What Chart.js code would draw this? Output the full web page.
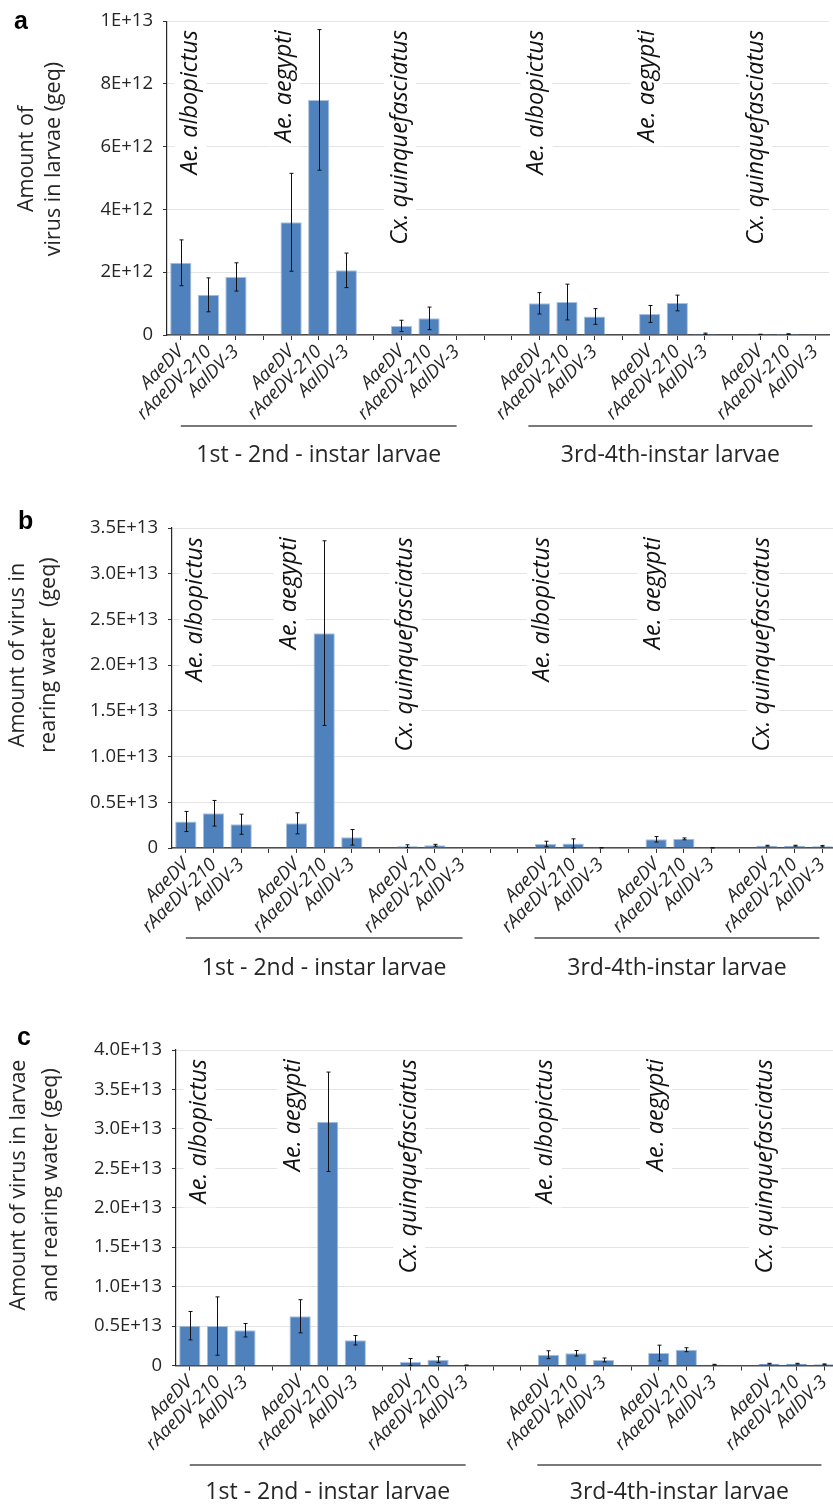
<!DOCTYPE html>
<html>
<head>
<meta charset="utf-8">
<script src="https://cdn.jsdelivr.net/npm/chart.js@4.4.1/dist/chart.umd.min.js"></script>
<style>
  html, body { margin: 0; padding: 0; background: #fff; overflow: hidden; width: 833px; height: 1509px; }
  canvas { position: absolute; left: 0; display: block; }
</style>
</head>
<body>
<canvas id="chartA" width="833" height="480" style="top:0px"></canvas>
<canvas id="chartB" width="840" height="520" style="top:480px"></canvas>
<canvas id="chartC" width="842" height="509" style="top:1000px"></canvas>
<script>
// Virus strains, host species and larval stages
const strains = ['AaeDV', 'rAaeDV-210', 'AalDV-3'];
const species = ['Ae. albopictus', 'Ae. aegypti', 'Cx. quinquefasciatus'];
const stages = ['1st - 2nd - instar larvae', '3rd-4th-instar larvae'];

// Values (geq), ordered stage -> species -> strain
const larvaeMean = [2.30e12, 1.28e12, 1.85e12, 3.59e12, 7.49e12, 2.06e12, 0.29e12, 0.53e12, 0.01e12,
                    1.01e12, 1.05e12, 0.59e12, 0.67e12, 1.02e12, 0.04e12, 0.02e12, 0.03e12, 0.005e12];
const larvaeSd = [0.73e12, 0.54e12, 0.45e12, 1.56e12, 2.24e12, 0.55e12, 0.18e12, 0.36e12, 0,
                  0.34e12, 0.57e12, 0.25e12, 0.27e12, 0.25e12, 0.02e12, 0.005e12, 0.01e12, 0];
const waterMean = [0.29e13, 0.38e13, 0.26e13, 0.27e13, 2.35e13, 0.117e13, 0.02e13, 0.03e13, 0,
                   0.044e13, 0.05e13, 0.002e13, 0.095e13, 0.10e13, 0.002e13, 0.025e13, 0.025e13, 0.02e13];
const waterSd = [0.11e13, 0.14e13, 0.11e13, 0.115e13, 1.01e13, 0.085e13, 0.015e13, 0.01e13, 0,
                 0.03e13, 0.05e13, 0.003e13, 0.03e13, 0.01e13, 0.002e13, 0.005e13, 0.005e13, 0.008e13];
const totalMean = [0.505e13, 0.50e13, 0.447e13, 0.624e13, 3.09e13, 0.32e13, 0.044e13, 0.074e13, 0.003e13,
                   0.137e13, 0.155e13, 0.07e13, 0.158e13, 0.20e13, 0.01e13, 0.023e13, 0.023e13, 0.015e13];
const totalSd = [0.18e13, 0.37e13, 0.085e13, 0.21e13, 0.63e13, 0.06e13, 0.045e13, 0.037e13, 0.003e13,
                 0.05e13, 0.035e13, 0.025e13, 0.10e13, 0.025e13, 0.005e13, 0.005e13, 0.005e13, 0.005e13];

// Y-axis tick labels
const larvaeTicks = ['0', '2E+12', '4E+12', '6E+12', '8E+12', '1E+13'];
const waterTicks = ['0', '0.5E+13', '1.0E+13', '1.5E+13', '2.0E+13', '2.5E+13', '3.0E+13', '3.5E+13'];
const totalTicks = ['0', '0.5E+13', '1.0E+13', '1.5E+13', '2.0E+13', '2.5E+13', '3.0E+13', '3.5E+13', '4.0E+13'];

// Category layout: six species groups of three strains, separated by empty slots
const groupStart = [0, 4, 8, 13, 17, 21];
const slotCount = 24;
const speciesLabelSlot = [0.35, 3.75, 7.95, 12.9, 16.9, 20.85];
const stageSpan = [[0, 10], [12.6, 22.9]];

const FONT = '"Open Sans", "Noto Sans", sans-serif';
const TEXT = '#262626';
const BAR = '#4f81bd';

function buildSlots(mean, sd) {
  const labels = new Array(slotCount).fill('');
  const values = new Array(slotCount).fill(null);
  const errs = new Array(slotCount).fill(null);
  groupStart.forEach((start, g) => {
    strains.forEach((name, s) => {
      const k = g * 3 + s;
      labels[start + s] = name;
      values[start + s] = mean[k];
      errs[start + s] = sd[k];
    });
  });
  return { labels, values, errs };
}

// Error bars from each bar's mean +/- sd
const errorBars = {
  id: 'errorBars',
  afterDatasetsDraw(chart) {
    const ds = chart.data.datasets[0];
    const meta = chart.getDatasetMeta(0);
    const y = chart.scales.y;
    const ctx = chart.ctx;
    ctx.save();
    ctx.strokeStyle = '#111';
    ctx.lineWidth = 1;
    meta.data.forEach((bar, i) => {
      const v = ds.data[i], e = ds.sd[i];
      if (v == null || !e) return;
      const x = Math.round(bar.x) + 0.5;
      const yt = y.getPixelForValue(v + e);
      const yb = y.getPixelForValue(Math.max(0, v - e));
      ctx.beginPath();
      ctx.moveTo(x, yt); ctx.lineTo(x, yb);
      ctx.moveTo(x - 2, yt); ctx.lineTo(x + 2, yt);
      ctx.moveTo(x - 2, yb); ctx.lineTo(x + 2, yb);
      ctx.stroke();
    });
    ctx.restore();
  }
};

// Species names above each group, on a white backing that breaks the grid
const speciesLabels = {
  id: 'speciesLabels',
  beforeDatasetsDraw(chart) {
    const ctx = chart.ctx;
    const xs = chart.scales.x;
    const top = chart.chartArea.top + 9;
    ctx.save();
    ctx.font = 'italic 23.5px ' + FONT;
    groupStart.forEach((start, g) => {
      const name = species[g % 3];
      const x = xs.getPixelForValue(speciesLabelSlot[g]);
      const w = ctx.measureText(name).width;
      ctx.fillStyle = '#fff';
      ctx.fillRect(x - 16, top - 4, 32, w + 8);
      ctx.fillStyle = '#111';
      ctx.translate(x, top);
      ctx.rotate(-Math.PI / 2);
      ctx.textAlign = 'right';
      ctx.textBaseline = 'middle';
      ctx.fillText(name, 0, 0);
      ctx.setTransform(1, 0, 0, 1, 0, 0);
    });
    ctx.restore();
  }
};

// Panel letter, y-axis title and larval-stage brackets
const annotations = {
  id: 'annotations',
  afterDraw(chart, args, o) {
    const ctx = chart.ctx;
    const xs = chart.scales.x;
    ctx.save();
    ctx.fillStyle = '#000';
    ctx.font = 'bold 25px "Liberation Sans", Arial, sans-serif';
    ctx.textAlign = 'left';
    ctx.textBaseline = 'alphabetic';
    ctx.fillText(o.letter, o.letterX, o.letterY);

    ctx.fillStyle = TEXT;
    ctx.font = '21.5px ' + FONT;
    ctx.textAlign = 'center';
    ctx.textBaseline = 'middle';
    o.title.forEach((line, i) => {
      ctx.save();
      ctx.translate(o.titleX[i], o.titleY);
      ctx.rotate(-Math.PI / 2);
      ctx.fillText(line, 0, 0);
      ctx.restore();
    });

    ctx.strokeStyle = '#4d4d4d';
    ctx.lineWidth = 1.5;
    ctx.font = '23px ' + FONT;
    stageSpan.forEach((span, i) => {
      const x0 = xs.getPixelForValue(span[0]);
      const x1 = xs.getPixelForValue(span[1]);
      ctx.beginPath();
      ctx.moveTo(x0, o.lineY); ctx.lineTo(x1, o.lineY);
      ctx.stroke();
      ctx.fillText(stages[i], (x0 + x1) / 2, o.stageY);
    });
    ctx.restore();
  }
};

function makePanel(p) {
  const slots = buildSlots(p.mean, p.sd);
  return new Chart(document.getElementById(p.id), {
    type: 'bar',
    data: {
      labels: slots.labels,
      datasets: [{
        data: slots.values,
        sd: slots.errs,
        backgroundColor: BAR,
        borderColor: '#a9c1e0',
        borderWidth: 1,
        categoryPercentage: 1,
        barPercentage: 0.77
      }]
    },
    options: {
      responsive: false,
      animation: false,
      devicePixelRatio: 1,
      layout: { padding: { top: p.padTop, right: 4, left: 0, bottom: 0 } },
      plugins: {
        legend: { display: false },
        tooltip: { enabled: false },
        annotations: p.ann
      },
      scales: {
        x: {
          afterFit(s) { s.height = p.xHeight; },
          grid: { display: true, drawOnChartArea: false, drawTicks: true, tickLength: 5, offset: false, tickColor: '#333', lineWidth: 1 },
          border: { color: '#4d4d4d', width: 1.5 },
          ticks: {
            autoSkip: false, minRotation: 45, maxRotation: 45, padding: 1,
            color: TEXT, font: { family: FONT, size: 18.5, style: 'italic' }
          }
        },
        y: {
          min: 0, max: p.max,
          afterFit(s) { s.width = p.yWidth; },
          grid: { color: '#e4e4e4', lineWidth: 1, tickColor: '#333', tickLength: 4, drawTicks: true },
          border: { color: '#262626', width: 1.2 },
          ticks: {
            stepSize: p.step, padding: 10, color: TEXT,
            font: { family: FONT, size: 18.5 },
            callback: (v) => p.ticks[Math.round(v / p.step)]
          }
        }
      }
    },
    plugins: [speciesLabels, errorBars, annotations]
  });
}

makePanel({
  id: 'chartA', mean: larvaeMean, sd: larvaeSd, ticks: larvaeTicks, max: 1e13, step: 2e12,
  padTop: 13, xHeight: 145, yWidth: 167,
  ann: { letter: 'a', letterX: 14, letterY: 29, title: ['Amount of', 'virus in larvae (geq)'],
         titleX: [27, 54], titleY: 159, lineY: 426, stageY: 455 }
});
makePanel({
  id: 'chartB', mean: waterMean, sd: waterSd, ticks: waterTicks, max: 3.5e13, step: 0.5e13,
  padTop: 48, xHeight: 152, yWidth: 172,
  ann: { letter: 'b', letterX: 18, letterY: 49, title: ['Amount of virus in', 'rearing water  (geq)'],
         titleX: [18, 49], titleY: 175, lineY: 458, stageY: 488 }
});
makePanel({
  id: 'chartC', mean: totalMean, sd: totalSd, ticks: totalTicks, max: 4e13, step: 0.5e13,
  padTop: 50, xHeight: 143.5, yWidth: 176,
  ann: { letter: 'c', letterX: 17, letterY: 45, title: ['Amount of virus in larvae', 'and rearing water (geq)'],
         titleX: [19, 51], titleY: 185, lineY: 465, stageY: 492 }
});
</script>
</body>
</html>
